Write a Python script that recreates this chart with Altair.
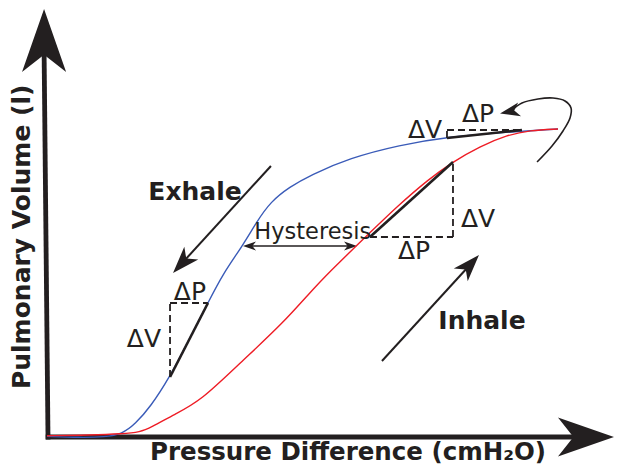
import altair as alt
import pandas as pd

# ---------------- data (pressure in cmH2O-like units, volume in litres-like units)
blue_p = [0, 2.6, 4.5, 5.9, 6.9, 8.1, 9.6, 11.0, 12.6, 13.8, 15.3, 16.4, 17.5, 19.0, 20.6, 23.7, 27.6, 31.3, 36.0, 40.0]
blue_v = [0.01, -0.01, 0.0, 0.05, 0.21, 0.49, 0.97, 1.53, 2.18, 2.66, 3.10, 3.49, 3.82, 4.06, 4.25, 4.53, 4.74, 4.87, 4.95, 5.0]
red_p = [0, 3.4, 5.9, 7.3, 8.1, 10.0, 12.0, 15.1, 18.5, 21.1, 22.9, 24.7, 27.6, 29.8, 31.7, 33.9, 36.0, 37.8, 40.0]
red_v = [0.02, 0.03, 0.05, 0.08, 0.15, 0.37, 0.58, 1.20, 1.85, 2.47, 2.84, 3.20, 3.78, 4.17, 4.46, 4.72, 4.90, 4.98, 5.0]

# tangent (solid) segments and their dashed legs
tan_p1 = [9.63, 25.28, 31.31]
tan_v1 = [0.974, 3.247, 4.854]
tan_p2 = [12.60, 31.78, 37.18]
tan_v2 = [2.175, 4.464, 4.984]

# axes shafts
axis_p1 = [-0.1, 0.08]
axis_v1 = [0.0, -0.04]
axis_p2 = [41.7, -0.23]
axis_v2 = [0.0, 6.3]

# straight arrow shafts (Exhale, Inhale, Hysteresis)
shaft_p1 = [17.53, 26.22, 15.6]
shaft_v1 = [4.40, 1.234, 3.10]
shaft_p2 = [10.58, 33.10, 24.0]
shaft_v2 = [2.824, 2.793, 3.10]

# arrowheads: centre, size, angle
head_p = [-0.23, 42.19, 10.58, 33.10, 15.85, 23.76, 36.23]
head_v = [6.437, 0.0, 2.824, 2.793, 3.10, 3.10, 5.284]
head_size = [3969, 3136, 729, 729, 169, 169, 400]
head_angle = [0, 90, 222.5, 42.5, 270, 90, 258]

# curved arrow at the top
loop_p = [38.36, 39.53, 40.39, 40.94, 41.02, 40.55, 39.61, 38.43, 37.18, 36.40]
loop_v = [4.464, 4.724, 4.968, 5.179, 5.341, 5.455, 5.503, 5.487, 5.422, 5.308]

# labels
delta_text = ["ΔV", "ΔP", "ΔV", "ΔP", "ΔV", "ΔP"]
delta_p = [7.59, 11.19, 33.74, 28.73, 29.59, 33.74]
delta_v = [1.59, 2.354, 3.54, 3.02, 4.98, 5.24]
bold_text = ["Exhale", "Inhale"]
bold_p = [11.59, 34.05]
bold_v = [3.977, 1.883]
hyst_text = ["Hysteresis"]
hyst_p = [20.8]
hyst_v = [3.33]
x_title = "Pressure Difference (cmH₂O)"
y_title = "Pulmonary Volume (l)"

# ---------------- layout
PX_PER_P = 12.775
PX_PER_V = 61.6
ORIGIN_X, ORIGIN_Y = 47, 437
W, H = 607, 459
x_dom = [(8 - ORIGIN_X) / PX_PER_P, (8 + W - ORIGIN_X) / PX_PER_P]
y_dom = [(ORIGIN_Y - (8 + H)) / PX_PER_V, (ORIGIN_Y - 8) / PX_PER_V]
xs = alt.Scale(domain=x_dom, nice=False, zero=False)
ys = alt.Scale(domain=y_dom, nice=False, zero=False)
INK = "#231f20"
FONT = "DejaVu Sans"


def X(f):
    return alt.X(f, type="quantitative", scale=xs, axis=None)


def Y(f):
    return alt.Y(f, type="quantitative", scale=ys, axis=None)


curves = pd.DataFrame(
    {
        "p": blue_p + red_p,
        "v": blue_v + red_v,
        "series": ["Exhale"] * len(blue_p) + ["Inhale"] * len(red_p),
        "i": list(range(len(blue_p))) + list(range(len(red_p))),
    }
)
tans = pd.DataFrame({"p1": tan_p1, "v1": tan_v1, "p2": tan_p2, "v2": tan_v2})
dash_v = pd.DataFrame({"p1": [9.63, 31.78, 31.31], "v1": [0.974, 3.247, 4.854],
                       "p2": [9.63, 31.78, 31.31], "v2": [2.175, 4.464, 4.984]})
dash_h = pd.DataFrame({"p1": [9.63, 25.28, 31.31], "v1": [2.175, 3.247, 4.984],
                       "p2": [12.60, 31.78, 37.18], "v2": [2.175, 3.247, 4.984]})
axes = pd.DataFrame({"p1": axis_p1, "v1": axis_v1, "p2": axis_p2, "v2": axis_v2})
shafts = pd.DataFrame({"p1": shaft_p1, "v1": shaft_v1, "p2": shaft_p2, "v2": shaft_v2,
                       "w": [2, 2, 1.6]})
heads = pd.DataFrame({"p": head_p, "v": head_v, "s": head_size, "a": head_angle})
loop = pd.DataFrame({"p": loop_p, "v": loop_v, "i": list(range(len(loop_p)))})
deltas = pd.DataFrame({"t": delta_text, "p": delta_p, "v": delta_v})
bolds = pd.DataFrame({"t": bold_text, "p": bold_p, "v": bold_v})
hyst = pd.DataFrame({"t": hyst_text, "p": hyst_p, "v": hyst_v})
titles_x = pd.DataFrame({"t": [x_title], "p": [23.56], "v": [-0.38]})
titles_y = pd.DataFrame({"t": [y_title], "p": [-1.96], "v": [3.25]})

axis_layer = alt.Chart(axes).mark_rule(color=INK, strokeWidth=4.8).encode(
    x=X("p1"), x2="p2", y=Y("v1"), y2="v2")

ARROW = "M0,-1L0.7,1L0,0.45L-0.7,1Z"
head_layer = alt.Chart(heads).mark_point(
    shape=ARROW, filled=True, opacity=1, color=INK, strokeWidth=0
).encode(x=X("p"), y=Y("v"), size=alt.Size("s:Q", scale=None),
         angle=alt.Angle("a:Q", scale=None))

curve_layer = alt.Chart(curves).mark_line(interpolate="basis", strokeWidth=1.4).encode(
    x=X("p"), y=Y("v"),
    color=alt.Color("series:N", scale=alt.Scale(domain=["Exhale", "Inhale"],
                                                range=["#3a5bb8", "#ee1c25"]), legend=None),
    order="i:Q")

tan_layer = alt.Chart(tans).mark_rule(color=INK, strokeWidth=2.6).encode(
    x=X("p1"), x2="p2", y=Y("v1"), y2="v2")
dash_layer_v = alt.Chart(dash_v).mark_rule(color=INK, strokeWidth=1.8, strokeDash=[7, 4]).encode(
    x=X("p1"), x2="p2", y=Y("v1"), y2="v2")
dash_layer_h = alt.Chart(dash_h).mark_rule(color=INK, strokeWidth=1.8, strokeDash=[7, 4]).encode(
    x=X("p1"), x2="p2", y=Y("v1"), y2="v2")

shaft_layer = alt.Chart(shafts).mark_rule(color=INK).encode(
    x=X("p1"), x2="p2", y=Y("v1"), y2="v2",
    strokeWidth=alt.StrokeWidth("w:Q", scale=None))

loop_layer = alt.Chart(loop).mark_line(interpolate="catmull-rom", color=INK, strokeWidth=1.6).encode(
    x=X("p"), y=Y("v"), order="i:Q")

delta_layer = alt.Chart(deltas).mark_text(font=FONT, fontSize=25, color=INK,
                                          align="center", baseline="middle").encode(
    x=X("p"), y=Y("v"), text="t:N")
bold_layer = alt.Chart(bolds).mark_text(font=FONT, fontSize=25, fontWeight="bold", color=INK,
                                        align="center", baseline="middle").encode(
    x=X("p"), y=Y("v"), text="t:N")
hyst_layer = alt.Chart(hyst).mark_text(font=FONT, fontSize=22.5, color=INK,
                                       align="center", baseline="middle").encode(
    x=X("p"), y=Y("v"), text="t:N")
xt_layer = alt.Chart(titles_x).mark_text(font=FONT, fontSize=24.5, fontWeight="bold", color=INK,
                                         align="center", baseline="alphabetic").encode(
    x=X("p"), y=Y("v"), text="t:N")
yt_layer = alt.Chart(titles_y).mark_text(font=FONT, fontSize=25, fontWeight="bold", color=INK,
                                         align="center", baseline="middle", angle=270).encode(
    x=X("p"), y=Y("v"), text="t:N")

chart = alt.layer(
    axis_layer, head_layer, curve_layer, tan_layer, dash_layer_v, dash_layer_h,
    shaft_layer, loop_layer, delta_layer, bold_layer, hyst_layer, xt_layer, yt_layer
).properties(
    width=W, height=H, padding=0, autosize=alt.AutoSizeParams(type="none"),
    background="white"
).configure_view(stroke=None)

chart.save("out.html", embed_options={"renderer": "svg", "actions": False})
